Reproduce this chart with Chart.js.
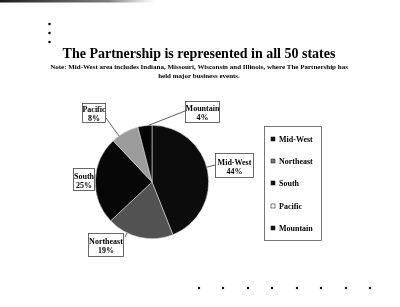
<!DOCTYPE html>
<html>
<head>
<meta charset="utf-8">
<script src="https://cdn.jsdelivr.net/npm/chart.js@4.4.1/dist/chart.umd.min.js"></script>
<style>
  html, body { margin: 0; padding: 0; background: #fff; }
  #wrap { width: 400px; height: 307px; }
</style>
</head>
<body>
<div id="wrap"><canvas id="pieChart" width="400" height="307"></canvas></div>
<script>
const regions = ['Mid-West', 'Northeast', 'South', 'Pacific', 'Mountain'];
const shares = [44, 19, 25, 8, 4];
const sliceColors = ['#0c0c0c', '#525252', '#070707', '#9c9c9c', '#050505'];
const legendMarks = ['#111', '#777', '#111', '#fff', '#111'];

const titleText = 'The Partnership is represented in all 50 states';
const noteLines = [
    'Note: Mid-West area includes Indiana, Missouri, Wisconsin and Illinois, where The Partnership has',
    'held major business events.'
];

// label boxes: [left, top, width, height, anchorX, anchorY, drawLine]
const labelBoxes = [
    [215, 153, 38, 24, 215, 165, true],
    [88, 233, 35, 23, 125, 237, true],
    [73, 168, 21, 22, 94, 179, false],
    [82, 103, 23, 19, 106, 118, true],
    [185, 101, 34, 21, 185, 111, true]
];

const SERIF = '"Times New Roman", "Liberation Serif", "DejaVu Serif", serif';

const decorations = {
    id: 'decorations',
    beforeDraw(chart) {
        const ctx = chart.ctx;
        ctx.save();
        ctx.fillStyle = '#fff';
        ctx.fillRect(0, 0, chart.width, chart.height);

        // scan edge at top left
        const g = ctx.createLinearGradient(0, 0, 155, 0);
        g.addColorStop(0, 'rgba(0,0,0,0.9)');
        g.addColorStop(0.7, 'rgba(40,40,40,0.6)');
        g.addColorStop(1, 'rgba(80,80,80,0)');
        ctx.fillStyle = g;
        ctx.fillRect(0, 0, 155, 2.5);

        // bullets
        ctx.fillStyle = '#111';
        [24, 33, 42].forEach(y => {
            ctx.beginPath(); ctx.arc(49.5, y, 1.3, 0, Math.PI * 2); ctx.fill();
        });
        [199, 223, 248, 272, 297, 321, 346, 370].forEach(x => {
            ctx.beginPath(); ctx.arc(x, 288, 1.2, 0, Math.PI * 2); ctx.fill();
        });

        // title + note
        ctx.fillStyle = '#000';
        ctx.textAlign = 'center';
        ctx.textBaseline = 'alphabetic';
        ctx.font = 'bold 14px ' + SERIF;
        ctx.fillText(titleText, 199, 58);
        ctx.font = 'bold 7px ' + SERIF;
        ctx.fillText(noteLines[0], 199, 68.5);
        ctx.fillText(noteLines[1], 199, 77.5);
        ctx.restore();
    },
    afterDatasetsDraw(chart) {
        const ctx = chart.ctx;
        const meta = chart.getDatasetMeta(0);
        ctx.save();
        ctx.lineWidth = 0.8;
        ctx.strokeStyle = '#333';

        meta.data.forEach((arc, i) => {
            const [bx, by, bw, bh, ax, ay, line] = labelBoxes[i];
            if (line) {
                // point on the slice edge facing the box
                const span = arc.endAngle - arc.startAngle;
                let a = Math.atan2(ay - arc.y, ax - arc.x);
                while (a < arc.startAngle) a += Math.PI * 2;
                while (a > arc.startAngle + Math.PI * 2) a -= Math.PI * 2;
                const lo = arc.startAngle + span * 0.25, hi = arc.endAngle - span * 0.25;
                if (a > hi) {
                    const dHi = a - hi, dLo = arc.startAngle + Math.PI * 2 - a + span * 0.25;
                    a = dHi < dLo ? hi : lo;
                }
                if (a < lo) a = lo;
                const px = arc.x + arc.outerRadius * Math.cos(a);
                const py = arc.y + arc.outerRadius * Math.sin(a);
                ctx.beginPath();
                ctx.moveTo(ax, ay);
                ctx.lineTo(px, py);
                ctx.stroke();
            }
            ctx.fillStyle = '#fff';
            ctx.fillRect(bx, by, bw, bh);
            ctx.strokeStyle = '#444';
            ctx.strokeRect(bx + 0.5, by + 0.5, bw, bh);
            ctx.strokeStyle = '#333';
            ctx.fillStyle = '#000';
            ctx.textAlign = 'center';
            ctx.font = 'bold 8px ' + SERIF;
            ctx.fillText(regions[i], bx + bw / 2 + 0.5, by + bh / 2 - 0.5);
            ctx.fillText(shares[i] + '%', bx + bw / 2 + 0.5, by + bh / 2 + 8.5);
        });

        // legend box
        ctx.strokeStyle = '#555';
        ctx.lineWidth = 0.8;
        ctx.strokeRect(264.5, 126.5, 57, 114);
        const rows = [139, 161, 183, 206, 228];
        ctx.textAlign = 'left';
        ctx.textBaseline = 'middle';
        ctx.font = 'bold 8px ' + SERIF;
        regions.forEach((r, i) => {
            ctx.fillStyle = legendMarks[i];
            ctx.fillRect(271, rows[i] - 2, 4, 4);
            ctx.strokeStyle = '#222';
            ctx.lineWidth = 0.6;
            ctx.strokeRect(271, rows[i] - 2, 4, 4);
            ctx.fillStyle = '#000';
            ctx.fillText(r, 279, rows[i] + 0.5);
        });
        ctx.restore();
    }
};

new Chart(document.getElementById('pieChart').getContext('2d'), {
    type: 'pie',
    data: {
        labels: regions,
        datasets: [{
            data: shares,
            backgroundColor: sliceColors,
            borderColor: '#d8d8d8',
            borderWidth: 0.6
        }]
    },
    options: {
        responsive: false,
        animation: false,
        layout: { padding: { left: 95, right: 191, top: 125, bottom: 68 } },
        plugins: {
            legend: { display: false },
            tooltip: { enabled: false }
        }
    },
    plugins: [decorations]
});
</script>
</body>
</html>
